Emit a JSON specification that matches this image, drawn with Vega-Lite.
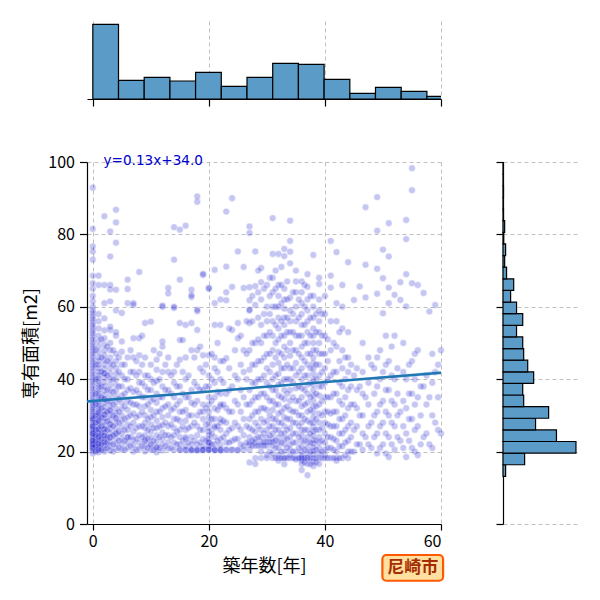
{
  "$schema": "https://vega.github.io/schema/vega-lite/v6.json",
  "autosize": {"type": "pad"},
  "padding": {"left": 22, "top": 21, "right": 5, "bottom": 5},
  "config": {
    "font": "Noto Sans CJK JP",
    "view": {"stroke": null},
    "axis": {
      "labelFont": "Noto Sans CJK JP", "titleFont": "Noto Sans CJK JP",
      "labelFontSize": 16, "titleFontSize": 18, "titleFontWeight": "normal",
      "labelColor": "black", "titleColor": "black",
      "domainColor": "black", "domainWidth": 1.2, "tickColor": "black", "tickWidth": 1.2,
      "gridColor": "#b0b0b0", "gridDash": [4, 3], "gridWidth": 0.8
    }
  },
  "spacing": 63,
  "bounds": "flush",
  "vconcat": [
    {
      "width": 354, "height": 78,
      "data": {"values": [
        {"start": 0, "end": 4.43, "count": 448},
        {"start": 4.43, "end": 8.86, "count": 112},
        {"start": 8.86, "end": 13.29, "count": 130},
        {"start": 13.29, "end": 17.71, "count": 108},
        {"start": 17.71, "end": 22.14, "count": 160},
        {"start": 22.14, "end": 26.57, "count": 76},
        {"start": 26.57, "end": 31, "count": 130},
        {"start": 31, "end": 35.43, "count": 214},
        {"start": 35.43, "end": 39.86, "count": 208},
        {"start": 39.86, "end": 44.29, "count": 118},
        {"start": 44.29, "end": 48.71, "count": 34},
        {"start": 48.71, "end": 53.14, "count": 70},
        {"start": 53.14, "end": 57.57, "count": 46},
        {"start": 57.57, "end": 62, "count": 16}
      ]},
      "mark": {"type": "rect", "fill": "#5a9bc8", "stroke": "black", "strokeWidth": 1.2, "clip": true},
      "encoding": {
        "x": {"field": "start", "type": "quantitative", "scale": {"domain": [-1, 60], "nice": false, "zero": false},
              "axis": {"values": [0, 20, 40, 60], "labels": false, "tickSize": 7, "title": null, "grid": true}},
        "x2": {"field": "end"},
        "y": {"field": "count", "type": "quantitative", "scale": {"domain": [0, 468]}, "axis": null},
        "y2": {"datum": 0}
      }
    },
    {
      "spacing": 62,
      "bounds": "flush",
      "hconcat": [
        {
          "width": 354, "height": 362,
          "encoding": {
            "x": {"type": "quantitative", "title": "築年数[年]", "scale": {"domain": [-1, 60], "nice": false, "zero": false},
                  "axis": {"values": [0, 20, 40, 60], "tickSize": 6, "labelPadding": 3, "titlePadding": 8, "grid": true}},
            "y": {"type": "quantitative", "title": "専有面積[m2]", "scale": {"domain": [0, 100], "nice": false},
                  "axis": {"values": [0, 20, 40, 60, 80, 100], "tickSize": 7.5, "labelPadding": 5, "titlePadding": 7, "grid": true}}
          },
          "layer": [
            {
              "data": {"values": [
{"age":0,"area":19.5},{"age":0,"area":20.2},{"age":0,"area":20.8},{"age":0,"area":21.3},{"age":0,"area":21.8},{"age":0,"area":22.3},{"age":0,"area":22.8},{"age":0,"area":23.3},{"age":0,"area":23.8},{"age":0,"area":24.3},{"age":0,"area":24.8},{"age":0,"area":25.3},{"age":0,"area":25.8},{"age":0,"area":26.3},{"age":0,"area":26.8},{"age":0,"area":27.3},{"age":0,"area":28},{"age":0,"area":28.6},{"age":0,"area":29.2},{"age":0,"area":29.8},{"age":0,"area":30.4},{"age":0,"area":31},{"age":0,"area":31.6},{"age":0,"area":32.2},{"age":0,"area":32.8},{"age":0,"area":33.5},{"age":0,"area":34.2},{"age":0,"area":35},{"age":0,"area":35.8},{"age":0,"area":36.6},{"age":0,"area":37.4},{"age":0,"area":38.2},{"age":0,"area":39},{"age":0,"area":39.8},{"age":0,"area":40.6},{"age":0,"area":41.4},{"age":0,"area":42.2},{"age":0,"area":43},{"age":0,"area":43.8},{"age":0,"area":44.6},{"age":0,"area":45.4},{"age":0,"area":46.2},{"age":0,"area":47},{"age":0,"area":47.8},{"age":0,"area":48.6},{"age":0,"area":49.4},{"age":0,"area":50.2},{"age":0,"area":51},{"age":0,"area":51.8},{"age":0,"area":52.6},{"age":0,"area":53.4},{"age":0,"area":54.2},{"age":0,"area":55},{"age":0,"area":55.8},{"age":0,"area":56.6},{"age":0,"area":57.4},{"age":0,"area":58.2},{"age":0,"area":59},{"age":0,"area":60},{"age":0,"area":61.5},{"age":0,"area":63},{"age":0,"area":65},{"age":0,"area":66.5},{"age":0,"area":68.6},{"age":0,"area":73},{"age":0,"area":75.3},{"age":0,"area":76.7},{"age":0,"area":81.5},{"age":0,"area":92.9},{"age":0,"area":21},{"age":0,"area":22},{"age":0,"area":23},{"age":0,"area":25},{"age":0,"area":27},{"age":0,"area":29},
{"age":1,"area":19.8},{"age":1,"area":20.5},{"age":1,"area":21},{"age":1,"area":21.6},{"age":1,"area":22.2},{"age":1,"area":22.9},{"age":1,"area":23.5},{"age":1,"area":24.1},{"age":1,"area":24.8},{"age":1,"area":25.5},{"age":1,"area":26.2},{"age":1,"area":27},{"age":1,"area":27.8},{"age":1,"area":28.5},{"age":1,"area":29.3},{"age":1,"area":30},{"age":1,"area":30.8},{"age":1,"area":31.5},{"age":1,"area":32.3},{"age":1,"area":33},{"age":1,"area":33.8},{"age":1,"area":34.6},{"age":1,"area":35.4},{"age":1,"area":36.2},{"age":1,"area":37},{"age":1,"area":37.8},{"age":1,"area":38.6},{"age":1,"area":39.4},{"age":1,"area":40.2},{"age":1,"area":41},{"age":1,"area":42},{"age":1,"area":43},{"age":1,"area":44},{"age":1,"area":45},{"age":1,"area":46},{"age":1,"area":47.5},{"age":1,"area":49},{"age":1,"area":50.5},{"age":1,"area":52},{"age":1,"area":54},{"age":1,"area":56},{"age":1,"area":58},{"age":1,"area":66},{"age":1,"area":68.6},{"age":1,"area":20.5},{"age":1,"area":22.2},{"age":1,"area":24.1},{"age":1,"area":26.2},{"age":1,"area":28.5},{"age":1,"area":30.8},
{"age":2,"area":20},{"age":2,"area":20.8},{"age":2,"area":21.7},{"age":2,"area":22.6},{"age":2,"area":23.5},{"age":2,"area":24.4},{"age":2,"area":25.3},{"age":2,"area":26.2},{"age":2,"area":27.2},{"age":2,"area":28.2},{"age":2,"area":29.2},{"age":2,"area":30.2},{"age":2,"area":31.2},{"age":2,"area":32.3},{"age":2,"area":33.4},{"age":2,"area":34.5},{"age":2,"area":35.6},{"age":2,"area":36.8},{"age":2,"area":38},{"age":2,"area":39.2},{"age":2,"area":40.4},{"age":2,"area":41.6},{"age":2,"area":42.8},{"age":2,"area":44},{"age":2,"area":45.3},{"age":2,"area":46.6},{"age":2,"area":48},{"age":2,"area":49.5},{"age":2,"area":51.3},{"age":2,"area":53.5},{"age":2,"area":56.8},{"age":2,"area":61},{"age":2,"area":66},{"age":2,"area":85},{"age":2,"area":22.6},{"age":2,"area":24.4},{"age":2,"area":26.2},{"age":2,"area":30.2},{"age":2,"area":34.5},{"age":2,"area":41.6},
{"age":3,"area":20.3},{"age":3,"area":21.5},{"age":3,"area":22.7},{"age":3,"area":23.9},{"age":3,"area":25.1},{"age":3,"area":26.3},{"age":3,"area":27.5},{"age":3,"area":28.8},{"age":3,"area":30.1},{"age":3,"area":31.4},{"age":3,"area":32.7},{"age":3,"area":34},{"age":3,"area":35.5},{"age":3,"area":37},{"age":3,"area":38.5},{"age":3,"area":40},{"age":3,"area":41.5},{"age":3,"area":43},{"age":3,"area":44.5},{"age":3,"area":46},{"age":3,"area":48},{"age":3,"area":50},{"age":3,"area":53.6},{"age":3,"area":54.5},{"age":3,"area":61.5},{"age":3,"area":64.8},{"age":3,"area":66},{"age":3,"area":73.9},{"age":3,"area":80.8},{"age":3,"area":23.9},{"age":3,"area":27.5},{"age":3,"area":31.4},
{"age":4,"area":20.8},{"age":4,"area":22.2},{"age":4,"area":23.6},{"age":4,"area":25},{"age":4,"area":26.4},{"age":4,"area":27.8},{"age":4,"area":29.2},{"age":4,"area":30.6},{"age":4,"area":32},{"age":4,"area":33.6},{"age":4,"area":35.2},{"age":4,"area":36.8},{"age":4,"area":38.4},{"age":4,"area":40},{"age":4,"area":41.6},{"age":4,"area":43.2},{"age":4,"area":45},{"age":4,"area":47},{"age":4,"area":52},{"age":4,"area":53},{"age":4,"area":59},{"age":4,"area":64.7},{"age":4,"area":77.7},{"age":4,"area":83.3},{"age":4,"area":86.8},{"age":4,"area":25},{"age":4,"area":29.2},
{"age":5,"area":20.5},{"age":5,"area":22},{"age":5,"area":23.5},{"age":5,"area":25},{"age":5,"area":26.8},{"age":5,"area":28.5},{"age":5,"area":30},{"age":5,"area":31.8},{"age":5,"area":33.5},{"age":5,"area":35.5},{"age":5,"area":38},{"age":5,"area":41},{"age":5,"area":44},{"age":5,"area":47.6},{"age":5,"area":50.4},{"age":5,"area":58.3},
{"age":6,"area":21},{"age":6,"area":22.5},{"age":6,"area":24},{"age":6,"area":26},{"age":6,"area":27.5},{"age":6,"area":29.5},{"age":6,"area":31.5},{"age":6,"area":34},{"age":6,"area":37},{"age":6,"area":40},{"age":6,"area":46},{"age":6,"area":61},{"age":6,"area":64.9},{"age":6,"area":67.5},{"age":6,"area":24},
{"age":7,"area":20},{"age":7,"area":21.8},{"age":7,"area":23.2},{"age":7,"area":25.5},{"age":7,"area":28},{"age":7,"area":30.5},{"age":7,"area":33},{"age":7,"area":36.5},{"age":7,"area":42},{"age":7,"area":46},{"age":7,"area":51.3},{"age":7,"area":60.5},{"age":7,"area":61},
{"age":8,"area":20.8},{"age":8,"area":22.5},{"age":8,"area":24.5},{"age":8,"area":27},{"age":8,"area":30},{"age":8,"area":32.5},{"age":8,"area":36},{"age":8,"area":39},{"age":8,"area":42},{"age":8,"area":46.6},{"age":8,"area":51.3},{"age":8,"area":69.6},
{"age":9,"area":20},{"age":9,"area":21.5},{"age":9,"area":23},{"age":9,"area":24.5},{"age":9,"area":26.5},{"age":9,"area":28},{"age":9,"area":30},{"age":9,"area":32.5},{"age":9,"area":35},{"age":9,"area":38},{"age":9,"area":41},{"age":9,"area":46},{"age":9,"area":55.5},{"age":9,"area":23},
{"age":10,"area":20.5},{"age":10,"area":22},{"age":10,"area":23.8},{"age":10,"area":25.5},{"age":10,"area":27.5},{"age":10,"area":29.5},{"age":10,"area":31.5},{"age":10,"area":34},{"age":10,"area":37},{"age":10,"area":40},{"age":10,"area":44},{"age":10,"area":55.9},{"age":10,"area":22},
{"age":11,"area":19.8},{"age":11,"area":21.2},{"age":11,"area":22.8},{"age":11,"area":24.5},{"age":11,"area":26.5},{"age":11,"area":28.5},{"age":11,"area":31},{"age":11,"area":33.5},{"age":11,"area":36},{"age":11,"area":39.5},{"age":11,"area":42.6},{"age":11,"area":45.4},{"age":11,"area":21.2},
{"age":12,"area":20.3},{"age":12,"area":22},{"age":12,"area":23.5},{"age":12,"area":25.3},{"age":12,"area":27.3},{"age":12,"area":29.5},{"age":12,"area":32},{"age":12,"area":35},{"age":12,"area":38},{"age":12,"area":42},{"age":12,"area":49},{"age":12,"area":50.4},{"age":12,"area":60},{"age":12,"area":60.3},
{"age":13,"area":20.8},{"age":13,"area":22.6},{"age":13,"area":24.5},{"age":13,"area":27},{"age":13,"area":30},{"age":13,"area":33},{"age":13,"area":37},{"age":13,"area":42},{"age":13,"area":46},{"age":13,"area":63.7},{"age":13,"area":65.2},
{"age":14,"area":20.5},{"age":14,"area":22.5},{"age":14,"area":24.5},{"age":14,"area":26.5},{"age":14,"area":29},{"age":14,"area":32},{"age":14,"area":35},{"age":14,"area":39},{"age":14,"area":42},{"age":14,"area":59.7},{"age":14,"area":60},{"age":14,"area":73},{"age":14,"area":82},
{"age":15,"area":20.5},{"age":15,"area":20.5},{"age":15,"area":22},{"age":15,"area":24},{"age":15,"area":26},{"age":15,"area":28.5},{"age":15,"area":31},{"age":15,"area":34},{"age":15,"area":38},{"age":15,"area":45.4},{"age":15,"area":55.5},{"age":15,"area":67.5},{"age":15,"area":81.3},{"age":15,"area":50.8},
{"age":16,"area":20.4},{"age":16,"area":20.5},{"age":16,"area":21.5},{"age":16,"area":23.5},{"age":16,"area":26},{"age":16,"area":28.5},{"age":16,"area":31.5},{"age":16,"area":35},{"age":16,"area":40},{"age":16,"area":46},{"age":16,"area":55},{"age":16,"area":82.4},{"age":16,"area":24},
{"age":17,"area":20.5},{"age":17,"area":20.5},{"age":17,"area":20.4},{"age":17,"area":22},{"age":17,"area":24},{"age":17,"area":27},{"age":17,"area":30},{"age":17,"area":33.5},{"age":17,"area":37},{"age":17,"area":48},{"age":17,"area":55.5},{"age":17,"area":62.7},{"age":17,"area":63.2},{"age":17,"area":64.7},
{"age":18,"area":20.5},{"age":18,"area":20.5},{"age":18,"area":20.3},{"age":18,"area":22},{"age":18,"area":24.5},{"age":18,"area":27},{"age":18,"area":30},{"age":18,"area":34},{"age":18,"area":38},{"age":18,"area":53.6},{"age":18,"area":58.8},{"age":18,"area":59.2},{"age":18,"area":48},{"age":18,"area":89},{"age":18,"area":90.5},
{"age":19,"area":20.5},{"age":19,"area":20.5},{"age":19,"area":20.4},{"age":19,"area":21.5},{"age":19,"area":23.5},{"age":19,"area":26},{"age":19,"area":29},{"age":19,"area":33},{"age":19,"area":37},{"age":19,"area":42},{"age":19,"area":46.6},{"age":19,"area":68.8},{"age":19,"area":69.1},{"age":19,"area":31},
{"age":20,"area":20.5},{"age":20,"area":20.5},{"age":20,"area":20.6},{"age":20,"area":21.5},{"age":20,"area":22.5},{"age":20,"area":23.5},{"age":20,"area":24.5},{"age":20,"area":25.5},{"age":20,"area":26.5},{"age":20,"area":28},{"age":20,"area":29.5},{"age":20,"area":31},{"age":20,"area":33},{"age":20,"area":35},{"age":20,"area":38},{"age":20,"area":41},{"age":20,"area":46.6},{"age":20,"area":65},{"age":20,"area":65.2},{"age":20,"area":22.5},
{"age":21,"area":20.5},{"age":21,"area":20.5},{"age":21,"area":20.4},{"age":21,"area":22},{"age":21,"area":24},{"age":21,"area":26.5},{"age":21,"area":29},{"age":21,"area":32},{"age":21,"area":35},{"age":21,"area":39},{"age":21,"area":43},{"age":21,"area":46},{"age":21,"area":55},{"age":21,"area":61},{"age":21,"area":70.2},{"age":21,"area":27},
{"age":22,"area":20.5},{"age":22,"area":20.5},{"age":22,"area":20.3},{"age":22,"area":21.8},{"age":22,"area":23.5},{"age":22,"area":26},{"age":22,"area":29},{"age":22,"area":32.5},{"age":22,"area":36},{"age":22,"area":40},{"age":22,"area":45},{"age":22,"area":55},{"age":22,"area":62},{"age":22,"area":28},{"age":22,"area":33},
{"age":23,"area":20.5},{"age":23,"area":20.5},{"age":23,"area":22.5},{"age":23,"area":25},{"age":23,"area":28},{"age":23,"area":32},{"age":23,"area":36},{"age":23,"area":45.8},{"age":23,"area":61.8},{"age":23,"area":64},{"age":23,"area":71.1},{"age":23,"area":86.3},
{"age":24,"area":20.5},{"age":24,"area":20.5},{"age":24,"area":23},{"age":24,"area":26.5},{"age":24,"area":31},{"age":24,"area":38},{"age":24,"area":53.6},{"age":24,"area":65.5},{"age":24,"area":90},
{"age":25,"area":20.5},{"age":25,"area":20.4},{"age":25,"area":23.5},{"age":25,"area":27},{"age":25,"area":33},{"age":25,"area":40},{"age":25,"area":51.3},{"age":25,"area":55.5},{"age":25,"area":75.3},
{"age":26,"area":20.5},{"age":26,"area":21.5},{"age":26,"area":24.5},{"age":26,"area":29},{"age":26,"area":35},{"age":26,"area":42},{"age":26,"area":48},{"age":26,"area":65.2},{"age":26,"area":71},
{"age":27,"area":17},{"age":27,"area":20.5},{"age":27,"area":21.8},{"age":27,"area":22.5},{"age":27,"area":24},{"age":27,"area":26.5},{"age":27,"area":29},{"age":27,"area":33},{"age":27,"area":37},{"age":27,"area":42.6},{"age":27,"area":48},{"age":27,"area":55.5},{"age":27,"area":59},{"age":27,"area":59.2},{"age":27,"area":61.8},{"age":27,"area":65.4},{"age":27,"area":80.4},{"age":27,"area":82.2},
{"age":28,"area":16.6},{"age":28,"area":18.2},{"age":28,"area":21.6},{"age":28,"area":22.5},{"age":28,"area":23.5},{"age":28,"area":25.5},{"age":28,"area":28},{"age":28,"area":31},{"age":28,"area":35},{"age":28,"area":39},{"age":28,"area":44},{"age":28,"area":50},{"age":28,"area":60.5},{"age":28,"area":65.7},{"age":28,"area":75.3},
{"age":29,"area":18.2},{"age":29,"area":20},{"age":29,"area":21.6},{"age":29,"area":22.6},{"age":29,"area":24},{"age":29,"area":26},{"age":29,"area":29},{"age":29,"area":32},{"age":29,"area":36},{"age":29,"area":40},{"age":29,"area":45},{"age":29,"area":50},{"age":29,"area":55},{"age":29,"area":62},{"age":29,"area":66.8},{"age":29,"area":70.7},
{"age":30,"area":18.2},{"age":30,"area":19},{"age":30,"area":21.6},{"age":30,"area":22.6},{"age":30,"area":23.8},{"age":30,"area":26},{"age":30,"area":28.5},{"age":30,"area":31.5},{"age":30,"area":35},{"age":30,"area":39},{"age":30,"area":43},{"age":30,"area":47},{"age":30,"area":52},{"age":30,"area":56},{"age":30,"area":60},{"age":30,"area":66},
{"age":31,"area":18.2},{"age":31,"area":19.5},{"age":31,"area":21.6},{"age":31,"area":22.6},{"age":31,"area":23.5},{"age":31,"area":25},{"age":31,"area":27},{"age":31,"area":29},{"age":31,"area":31.5},{"age":31,"area":34},{"age":31,"area":37},{"age":31,"area":40},{"age":31,"area":44},{"age":31,"area":48},{"age":31,"area":52},{"age":31,"area":56},{"age":31,"area":60},{"age":31,"area":64},{"age":31,"area":68},{"age":31,"area":74.6},{"age":31,"area":84.5},
{"age":32,"area":17.5},{"age":32,"area":18.2},{"age":32,"area":19},{"age":32,"area":21},{"age":32,"area":22.5},{"age":32,"area":24},{"age":32,"area":26},{"age":32,"area":28},{"age":32,"area":30.5},{"age":32,"area":33},{"age":32,"area":35.5},{"age":32,"area":38.5},{"age":32,"area":41.5},{"age":32,"area":44.5},{"age":32,"area":47.5},{"age":32,"area":51},{"age":32,"area":54},{"age":32,"area":57},{"age":32,"area":60},{"age":32,"area":63},{"age":32,"area":66},{"age":32,"area":74.6},
{"age":33,"area":16.5},{"age":33,"area":18.2},{"age":33,"area":18.2},{"age":33,"area":20},{"age":33,"area":22},{"age":33,"area":23.5},{"age":33,"area":25},{"age":33,"area":27},{"age":33,"area":29.5},{"age":33,"area":32},{"age":33,"area":34.5},{"age":33,"area":37},{"age":33,"area":40},{"age":33,"area":43},{"age":33,"area":46},{"age":33,"area":49},{"age":33,"area":52},{"age":33,"area":55},{"age":33,"area":57},{"age":33,"area":59.5},{"age":33,"area":62},{"age":33,"area":65},{"age":33,"area":74},{"age":33,"area":76},
{"age":34,"area":18.2},{"age":34,"area":19},{"age":34,"area":20.5},{"age":34,"area":22},{"age":34,"area":24},{"age":34,"area":26.5},{"age":34,"area":29},{"age":34,"area":31.5},{"age":34,"area":34},{"age":34,"area":37},{"age":34,"area":40},{"age":34,"area":43},{"age":34,"area":46.5},{"age":34,"area":50},{"age":34,"area":53},{"age":34,"area":56},{"age":34,"area":59},{"age":34,"area":62.5},{"age":34,"area":72},{"age":34,"area":75.2},{"age":34,"area":78.2},{"age":34,"area":83.8},
{"age":35,"area":17.8},{"age":35,"area":18.2},{"age":35,"area":20},{"age":35,"area":22.5},{"age":35,"area":25},{"age":35,"area":28},{"age":35,"area":31},{"age":35,"area":34},{"age":35,"area":37.5},{"age":35,"area":41},{"age":35,"area":44.5},{"age":35,"area":48},{"age":35,"area":52},{"age":35,"area":56},{"age":35,"area":60},{"age":35,"area":64},{"age":35,"area":67},{"age":35,"area":70},
{"age":36,"area":14.9},{"age":36,"area":16.6},{"age":36,"area":17.5},{"age":36,"area":18.2},{"age":36,"area":18.2},{"age":36,"area":19},{"age":36,"area":20},{"age":36,"area":21.5},{"age":36,"area":23},{"age":36,"area":24.5},{"age":36,"area":26},{"age":36,"area":28},{"age":36,"area":30},{"age":36,"area":32.5},{"age":36,"area":35},{"age":36,"area":37.5},{"age":36,"area":40},{"age":36,"area":43},{"age":36,"area":46},{"age":36,"area":49},{"age":36,"area":52},{"age":36,"area":55},{"age":36,"area":58},{"age":36,"area":61},{"age":36,"area":64},{"age":36,"area":67},
{"age":37,"area":13.5},{"age":37,"area":16.6},{"age":37,"area":18.2},{"age":37,"area":18.2},{"age":37,"area":19.5},{"age":37,"area":21},{"age":37,"area":22.5},{"age":37,"area":24},{"age":37,"area":26},{"age":37,"area":28.5},{"age":37,"area":31},{"age":37,"area":33.5},{"age":37,"area":36},{"age":37,"area":38.5},{"age":37,"area":41},{"age":37,"area":44},{"age":37,"area":47},{"age":37,"area":50},{"age":37,"area":53},{"age":37,"area":56},{"age":37,"area":59},{"age":37,"area":62},{"age":37,"area":65.5},{"age":37,"area":69},
{"age":38,"area":16},{"age":38,"area":17.2},{"age":38,"area":18.2},{"age":38,"area":19.2},{"age":38,"area":20.2},{"age":38,"area":21.2},{"age":38,"area":22.2},{"age":38,"area":23.2},{"age":38,"area":24.4},{"age":38,"area":25.6},{"age":38,"area":26.8},{"age":38,"area":28},{"age":38,"area":29.5},{"age":38,"area":31},{"age":38,"area":32.5},{"age":38,"area":34},{"age":38,"area":35.5},{"age":38,"area":37},{"age":38,"area":38.5},{"age":38,"area":40},{"age":38,"area":41.5},{"age":38,"area":43},{"age":38,"area":44.5},{"age":38,"area":46},{"age":38,"area":48},{"age":38,"area":50},{"age":38,"area":52},{"age":38,"area":54},{"age":38,"area":57},{"age":38,"area":60},{"age":38,"area":63},{"age":38,"area":74.3},
{"age":39,"area":16.6},{"age":39,"area":18.2},{"age":39,"area":19.5},{"age":39,"area":21},{"age":39,"area":22.5},{"age":39,"area":24},{"age":39,"area":26},{"age":39,"area":28},{"age":39,"area":30.5},{"age":39,"area":33},{"age":39,"area":35.5},{"age":39,"area":38},{"age":39,"area":41},{"age":39,"area":44},{"age":39,"area":47},{"age":39,"area":50},{"age":39,"area":53},{"age":39,"area":56},{"age":39,"area":59},{"age":39,"area":62},{"age":39,"area":66.3},{"age":39,"area":68},
{"age":40,"area":18.2},{"age":40,"area":19},{"age":40,"area":20.5},{"age":40,"area":22.5},{"age":40,"area":25},{"age":40,"area":28},{"age":40,"area":31},{"age":40,"area":35},{"age":40,"area":39},{"age":40,"area":43},{"age":40,"area":47},{"age":40,"area":52},{"age":40,"area":58},{"age":40,"area":63},
{"age":41,"area":18.2},{"age":41,"area":21},{"age":41,"area":24},{"age":41,"area":27},{"age":41,"area":30.5},{"age":41,"area":35},{"age":41,"area":41},{"age":41,"area":48},{"age":41,"area":56},{"age":41,"area":65.3},{"age":41,"area":68.6},{"age":41,"area":78.2},
{"age":42,"area":17.5},{"age":42,"area":18.2},{"age":42,"area":20},{"age":42,"area":23},{"age":42,"area":27},{"age":42,"area":31},{"age":42,"area":36},{"age":42,"area":42},{"age":42,"area":49},{"age":42,"area":56},{"age":42,"area":61},{"age":42,"area":75.1},
{"age":43,"area":18.2},{"age":43,"area":21.5},{"age":43,"area":25},{"age":43,"area":29},{"age":43,"area":33},{"age":43,"area":38},{"age":43,"area":43},{"age":43,"area":48},{"age":43,"area":54},{"age":43,"area":60},{"age":43,"area":66},
{"age":44,"area":18.2},{"age":44,"area":20},{"age":44,"area":23},{"age":44,"area":27},{"age":44,"area":32},{"age":44,"area":37},{"age":44,"area":42},{"age":44,"area":46},{"age":44,"area":53},{"age":44,"area":72.3},
{"age":45,"area":20},{"age":45,"area":26},{"age":45,"area":33},{"age":45,"area":41},{"age":45,"area":61.9},
{"age":46,"area":22},{"age":46,"area":30},{"age":46,"area":38},{"age":46,"area":65.6},
{"age":47,"area":24},{"age":47,"area":35},{"age":47,"area":62.6},{"age":47,"area":71.6},{"age":47,"area":87.5},
{"age":48,"area":21},{"age":48,"area":28},{"age":48,"area":44},
{"age":49,"area":19.5},{"age":49,"area":25},{"age":49,"area":31},{"age":49,"area":38},{"age":49,"area":46},{"age":49,"area":63.6},{"age":49,"area":70.5},{"age":49,"area":81},{"age":49,"area":90.3},
{"age":50,"area":22},{"age":50,"area":28},{"age":50,"area":34},{"age":50,"area":42},{"age":50,"area":58.2},{"age":50,"area":67.9},{"age":50,"area":75.8},
{"age":51,"area":18.5},{"age":51,"area":24},{"age":51,"area":30},{"age":51,"area":37},{"age":51,"area":45},{"age":51,"area":61},{"age":51,"area":65.3},{"age":51,"area":73.9},{"age":51,"area":83.1},
{"age":52,"area":20.5},{"age":52,"area":27},{"age":52,"area":33},{"age":52,"area":40},{"age":52,"area":52},{"age":52,"area":63.3},
{"age":53,"area":23},{"age":53,"area":31},{"age":53,"area":61.9},{"age":53,"area":66.8},
{"age":54,"area":18.5},{"age":54,"area":25},{"age":54,"area":32},{"age":54,"area":40},{"age":54,"area":60.1},{"age":54,"area":69},{"age":54,"area":78.7},{"age":54,"area":84},
{"age":55,"area":21},{"age":55,"area":29},{"age":55,"area":36},{"age":55,"area":45},{"age":55,"area":66.5},{"age":55,"area":92.2},{"age":55,"area":98.3},
{"age":56,"area":19},{"age":56,"area":27},{"age":56,"area":35},{"age":56,"area":48},{"age":56,"area":66},
{"age":57,"area":24},{"age":57,"area":38},{"age":57,"area":63.8},
{"age":58,"area":22},{"age":58,"area":35},{"age":58,"area":58.7},
{"age":59,"area":28},{"age":59,"area":42},{"age":59,"area":60.5},
{"age":60,"area":25},{"age":60,"area":48},
{"age":0.5,"area":20},{"age":0.5,"area":21.5},{"age":0.5,"area":23},{"age":0.5,"area":24.5},{"age":0.5,"area":26},{"age":0.5,"area":28},{"age":0.5,"area":30},{"age":0.5,"area":33},{"age":0.5,"area":36},{"age":0.5,"area":40},{"age":0.5,"area":44},{"age":0.5,"area":48},
{"age":1.5,"area":20.5},{"age":1.5,"area":22},{"age":1.5,"area":23.5},{"age":1.5,"area":25},{"age":1.5,"area":27},{"age":1.5,"area":29.5},{"age":1.5,"area":32},{"age":1.5,"area":35},{"age":1.5,"area":38},{"age":1.5,"area":42},{"age":1.5,"area":46},{"age":1.5,"area":51},
{"age":2.5,"area":21},{"age":2.5,"area":22.5},{"age":2.5,"area":24},{"age":2.5,"area":26},{"age":2.5,"area":28.5},{"age":2.5,"area":31},{"age":2.5,"area":34},{"age":2.5,"area":37},{"age":2.5,"area":41},{"age":2.5,"area":45},{"age":2.5,"area":49},
{"age":3.5,"area":20},{"age":3.5,"area":22},{"age":3.5,"area":24.5},{"age":3.5,"area":27},{"age":3.5,"area":30},{"age":3.5,"area":33},{"age":3.5,"area":36.5},{"age":3.5,"area":40},{"age":3.5,"area":44},{"age":3.5,"area":48},
{"age":4.5,"area":21},{"age":4.5,"area":23},{"age":4.5,"area":25.5},{"age":4.5,"area":28},{"age":4.5,"area":31},{"age":4.5,"area":34.5},{"age":4.5,"area":38},{"age":4.5,"area":42},{"age":4.5,"area":46},
{"age":5.5,"area":20.5},{"age":5.5,"area":23},{"age":5.5,"area":26},{"age":5.5,"area":29},{"age":5.5,"area":32.5},{"age":5.5,"area":36},{"age":5.5,"area":40},{"age":5.5,"area":44},
{"age":6.5,"area":21.5},{"age":6.5,"area":24},{"age":6.5,"area":27},{"age":6.5,"area":30},{"age":6.5,"area":33.5},{"age":6.5,"area":37.5},{"age":6.5,"area":42},{"age":6.5,"area":48},
{"age":7.5,"area":20.5},{"age":7.5,"area":23.5},{"age":7.5,"area":26.5},{"age":7.5,"area":29.5},{"age":7.5,"area":33},{"age":7.5,"area":37},{"age":7.5,"area":41},{"age":7.5,"area":45},
{"age":8.5,"area":21.5},{"age":8.5,"area":24},{"age":8.5,"area":27},{"age":8.5,"area":31},{"age":8.5,"area":35},{"age":8.5,"area":39},{"age":8.5,"area":44},{"age":8.5,"area":52},
{"age":9.5,"area":21},{"age":9.5,"area":23.5},{"age":9.5,"area":26},{"age":9.5,"area":29},{"age":9.5,"area":33},{"age":9.5,"area":37},{"age":9.5,"area":41},
{"age":10.5,"area":20.5},{"age":10.5,"area":23},{"age":10.5,"area":26.5},{"age":10.5,"area":30},{"age":10.5,"area":34.5},{"age":10.5,"area":39},{"age":10.5,"area":48},
{"age":11.5,"area":21},{"age":11.5,"area":24},{"age":11.5,"area":27},{"age":11.5,"area":31},{"age":11.5,"area":35},{"age":11.5,"area":40},{"age":11.5,"area":47},
{"age":12.5,"area":21.5},{"age":12.5,"area":24.5},{"age":12.5,"area":28},{"age":12.5,"area":32.5},{"age":12.5,"area":37},{"age":12.5,"area":44},
{"age":13.5,"area":21},{"age":13.5,"area":24},{"age":13.5,"area":27.5},{"age":13.5,"area":31.5},{"age":13.5,"area":36},{"age":13.5,"area":41},
{"age":14.5,"area":22},{"age":14.5,"area":25.5},{"age":14.5,"area":29},{"age":14.5,"area":33},{"age":14.5,"area":38},{"age":14.5,"area":44},
{"age":15.5,"area":23},{"age":15.5,"area":27},{"age":15.5,"area":31},{"age":15.5,"area":36},{"age":15.5,"area":42},{"age":15.5,"area":50.8},
{"age":16.5,"area":22.5},{"age":16.5,"area":26.5},{"age":16.5,"area":30},{"age":16.5,"area":35},{"age":16.5,"area":41},
{"age":17.5,"area":23},{"age":17.5,"area":28},{"age":17.5,"area":33},{"age":17.5,"area":39},{"age":17.5,"area":46},
{"age":18.5,"area":22.5},{"age":18.5,"area":26},{"age":18.5,"area":31},{"age":18.5,"area":37},{"age":18.5,"area":43},{"age":18.5,"area":49},
{"age":19.5,"area":23},{"age":19.5,"area":27.5},{"age":19.5,"area":32},{"age":19.5,"area":38},{"age":19.5,"area":44},
{"age":20.5,"area":22},{"age":20.5,"area":25},{"age":20.5,"area":29},{"age":20.5,"area":34},{"age":20.5,"area":40},{"age":20.5,"area":47},
{"age":21.5,"area":23},{"age":21.5,"area":27},{"age":21.5,"area":31.5},{"age":21.5,"area":36.5},{"age":21.5,"area":42},{"age":21.5,"area":50},
{"age":22.5,"area":24},{"age":22.5,"area":28.5},{"age":22.5,"area":33},{"age":22.5,"area":39},{"age":22.5,"area":45},
{"age":23.5,"area":22.5},{"age":23.5,"area":26},{"age":23.5,"area":31},{"age":23.5,"area":37},{"age":23.5,"area":43},{"age":23.5,"area":54},
{"age":24.5,"area":23.5},{"age":24.5,"area":28},{"age":24.5,"area":34},{"age":24.5,"area":41},{"age":24.5,"area":48},
{"age":25.5,"area":22},{"age":25.5,"area":26},{"age":25.5,"area":31},{"age":25.5,"area":37},{"age":25.5,"area":44},{"age":25.5,"area":52},
{"age":26.5,"area":22.5},{"age":26.5,"area":27},{"age":26.5,"area":33},{"age":26.5,"area":40},{"age":26.5,"area":47},{"age":26.5,"area":56},
{"age":27.5,"area":21.6},{"age":27.5,"area":23},{"age":27.5,"area":26},{"age":27.5,"area":30},{"age":27.5,"area":34},{"age":27.5,"area":39},{"age":27.5,"area":44},{"age":27.5,"area":50},{"age":27.5,"area":56},{"age":27.5,"area":63},
{"age":28.5,"area":21.6},{"age":28.5,"area":24},{"age":28.5,"area":27},{"age":28.5,"area":31},{"age":28.5,"area":35},{"age":28.5,"area":40},{"age":28.5,"area":45},{"age":28.5,"area":51},{"age":28.5,"area":57},{"age":28.5,"area":64},{"age":28.5,"area":70},
{"age":29.5,"area":21.6},{"age":29.5,"area":22.6},{"age":29.5,"area":25},{"age":29.5,"area":28},{"age":29.5,"area":32},{"age":29.5,"area":36},{"age":29.5,"area":41},{"age":29.5,"area":46},{"age":29.5,"area":52},{"age":29.5,"area":58},{"age":29.5,"area":65},
{"age":30.5,"area":20},{"age":30.5,"area":22.6},{"age":30.5,"area":24.5},{"age":30.5,"area":27},{"age":30.5,"area":30},{"age":30.5,"area":34},{"age":30.5,"area":38},{"age":30.5,"area":42},{"age":30.5,"area":47},{"age":30.5,"area":53},{"age":30.5,"area":58},{"age":30.5,"area":63},{"age":30.5,"area":68},
{"age":31.5,"area":18.2},{"age":31.5,"area":21},{"age":31.5,"area":23},{"age":31.5,"area":26},{"age":31.5,"area":29},{"age":31.5,"area":33},{"age":31.5,"area":37},{"age":31.5,"area":41},{"age":31.5,"area":46},{"age":31.5,"area":50},{"age":31.5,"area":55},{"age":31.5,"area":60},{"age":31.5,"area":65},{"age":31.5,"area":70},
{"age":32.5,"area":18.2},{"age":32.5,"area":20},{"age":32.5,"area":22.5},{"age":32.5,"area":25},{"age":32.5,"area":28},{"age":32.5,"area":31},{"age":32.5,"area":35},{"age":32.5,"area":39},{"age":32.5,"area":43},{"age":32.5,"area":47},{"age":32.5,"area":52},{"age":32.5,"area":56},{"age":32.5,"area":61},{"age":32.5,"area":66},{"age":32.5,"area":71},
{"age":33.5,"area":18.2},{"age":33.5,"area":21},{"age":33.5,"area":23.5},{"age":33.5,"area":26},{"age":33.5,"area":29},{"age":33.5,"area":32.5},{"age":33.5,"area":36},{"age":33.5,"area":40},{"age":33.5,"area":44},{"age":33.5,"area":48},{"age":33.5,"area":53},{"age":33.5,"area":57},{"age":33.5,"area":62},{"age":33.5,"area":67},
{"age":34.5,"area":18.2},{"age":34.5,"area":20},{"age":34.5,"area":22.5},{"age":34.5,"area":25},{"age":34.5,"area":28},{"age":34.5,"area":31},{"age":34.5,"area":35},{"age":34.5,"area":39},{"age":34.5,"area":43},{"age":34.5,"area":48},{"age":34.5,"area":53},{"age":34.5,"area":58},{"age":34.5,"area":64},
{"age":35.5,"area":18.2},{"age":35.5,"area":21},{"age":35.5,"area":24},{"age":35.5,"area":27},{"age":35.5,"area":30},{"age":35.5,"area":34},{"age":35.5,"area":38},{"age":35.5,"area":42},{"age":35.5,"area":47},{"age":35.5,"area":52},{"age":35.5,"area":57},{"age":35.5,"area":62},
{"age":36.5,"area":17},{"age":36.5,"area":18.2},{"age":36.5,"area":20.5},{"age":36.5,"area":23},{"age":36.5,"area":26},{"age":36.5,"area":29},{"age":36.5,"area":33},{"age":36.5,"area":37},{"age":36.5,"area":41},{"age":36.5,"area":45},{"age":36.5,"area":50},{"age":36.5,"area":55},{"age":36.5,"area":60},{"age":36.5,"area":66},
{"age":37.5,"area":16.6},{"age":37.5,"area":18.2},{"age":37.5,"area":20},{"age":37.5,"area":22.5},{"age":37.5,"area":25},{"age":37.5,"area":28},{"age":37.5,"area":31.5},{"age":37.5,"area":35},{"age":37.5,"area":39},{"age":37.5,"area":43},{"age":37.5,"area":47},{"age":37.5,"area":52},{"age":37.5,"area":57},{"age":37.5,"area":63},
{"age":38.5,"area":17},{"age":38.5,"area":18.2},{"age":38.5,"area":20.5},{"age":38.5,"area":23},{"age":38.5,"area":26},{"age":38.5,"area":29},{"age":38.5,"area":32.5},{"age":38.5,"area":36},{"age":38.5,"area":40},{"age":38.5,"area":44},{"age":38.5,"area":48},{"age":38.5,"area":53},{"age":38.5,"area":58},
{"age":39.5,"area":18.2},{"age":39.5,"area":20},{"age":39.5,"area":23},{"age":39.5,"area":26.5},{"age":39.5,"area":30},{"age":39.5,"area":34},{"age":39.5,"area":38},{"age":39.5,"area":42},{"age":39.5,"area":47},{"age":39.5,"area":52},{"age":39.5,"area":58},
{"age":40.5,"area":18.2},{"age":40.5,"area":21},{"age":40.5,"area":24},{"age":40.5,"area":27.5},{"age":40.5,"area":31},{"age":40.5,"area":35},{"age":40.5,"area":40},{"age":40.5,"area":45},{"age":40.5,"area":51},
{"age":41.5,"area":18.2},{"age":41.5,"area":20.5},{"age":41.5,"area":23.5},{"age":41.5,"area":27},{"age":41.5,"area":31},{"age":41.5,"area":36},{"age":41.5,"area":42},{"age":41.5,"area":50},
{"age":42.5,"area":18.2},{"age":42.5,"area":21.5},{"age":42.5,"area":25},{"age":42.5,"area":29},{"age":42.5,"area":34},{"age":42.5,"area":39},{"age":42.5,"area":45},{"age":42.5,"area":53},
{"age":43.5,"area":19},{"age":43.5,"area":22.5},{"age":43.5,"area":26},{"age":43.5,"area":30},{"age":43.5,"area":35},{"age":43.5,"area":40},{"age":43.5,"area":46},
{"age":44.5,"area":20},{"age":44.5,"area":24},{"age":44.5,"area":28},{"age":44.5,"area":33},{"age":44.5,"area":38},{"age":44.5,"area":44},
{"age":45.5,"area":22},{"age":45.5,"area":27},{"age":45.5,"area":32},{"age":45.5,"area":37},{"age":45.5,"area":43},
{"age":46.5,"area":20.5},{"age":46.5,"area":25},{"age":46.5,"area":30},{"age":46.5,"area":36},{"age":46.5,"area":42},{"age":46.5,"area":50},
{"age":47.5,"area":22},{"age":47.5,"area":27},{"age":47.5,"area":33},{"age":47.5,"area":39},{"age":47.5,"area":46},
{"age":48.5,"area":24},{"age":48.5,"area":30},{"age":48.5,"area":36},{"age":48.5,"area":43},
{"age":49.5,"area":21},{"age":49.5,"area":27},{"age":49.5,"area":33},{"age":49.5,"area":40},{"age":49.5,"area":48},
{"age":50.5,"area":19.5},{"age":50.5,"area":25},{"age":50.5,"area":31},{"age":50.5,"area":37},{"age":50.5,"area":44},{"age":50.5,"area":52},
{"age":51.5,"area":22},{"age":51.5,"area":28},{"age":51.5,"area":34},{"age":51.5,"area":41},{"age":51.5,"area":49},
{"age":52.5,"area":24},{"age":52.5,"area":30},{"age":52.5,"area":36},{"age":52.5,"area":43},
{"age":53.5,"area":21},{"age":53.5,"area":27},{"age":53.5,"area":34},{"age":53.5,"area":42},{"age":53.5,"area":50},
{"age":54.5,"area":23},{"age":54.5,"area":29},{"age":54.5,"area":36},{"age":54.5,"area":44},
{"age":55.5,"area":20},{"age":55.5,"area":26},{"age":55.5,"area":33},{"age":55.5,"area":40},{"age":55.5,"area":47},
{"age":56.5,"area":22},{"age":56.5,"area":30},{"age":56.5,"area":38},
{"age":57.5,"area":25},{"age":57.5,"area":33},{"age":57.5,"area":41},
{"age":58.5,"area":21},{"age":58.5,"area":30},{"age":58.5,"area":39},{"age":58.5,"area":47},
{"age":59.5,"area":26},{"age":59.5,"area":35},{"age":59.5,"area":44}
              ]},
              "mark": {"type": "circle", "size": 48, "color": "#0000cd", "opacity": 0.22, "stroke": "white", "strokeWidth": 0.6},
              "encoding": {
                "x": {"field": "age"},
                "y": {"field": "area"}
              }
            },
            {
              "data": {"values": [
                {"age": -1, "lo": 33.35, "hi": 34.4},
                {"age": 15, "lo": 35.65, "hi": 36.3},
                {"age": 30, "lo": 37.7, "hi": 38.25},
                {"age": 45, "lo": 39.45, "hi": 40.15},
                {"age": 60, "lo": 41.2, "hi": 42.4}
              ]},
              "mark": {"type": "area", "color": "#1f77b4", "opacity": 0.15},
              "encoding": {
                "x": {"field": "age"},
                "y": {"field": "lo"},
                "y2": {"field": "hi"}
              }
            },
            {
              "data": {"values": [
                {"age": -1, "fit": 33.87},
                {"age": 60, "fit": 41.8}
              ]},
              "mark": {"type": "line", "color": "#1f77b4", "strokeWidth": 2.5},
              "encoding": {
                "x": {"field": "age"},
                "y": {"field": "fit"}
              }
            },
            {
              "data": {"values": [{"label": "y=0.13x+34.0", "age": 1.85, "area": 100.3}]},
              "mark": {"type": "text", "align": "left", "baseline": "middle", "font": "DejaVu Sans", "fontSize": 13.6, "color": "#0000cd"},
              "encoding": {
                "x": {"field": "age"},
                "y": {"field": "area"},
                "text": {"field": "label"}
              }
            },
            {
              "data": {"values": [{"label": "尼崎市", "x0": 49.9, "x1": 60.36, "y0": -8.57, "y1": -15.68}]},
              "mark": {"type": "rect", "fill": "#ffe0a0", "stroke": "#ff5a00", "strokeWidth": 2.2, "cornerRadius": 4},
              "encoding": {
                "x": {"field": "x0"},
                "x2": {"field": "x1"},
                "y": {"field": "y0"},
                "y2": {"field": "y1"}
              }
            },
            {
              "data": {"values": [{"label": "尼崎市", "age": 55.13, "area": -12.1}]},
              "mark": {"type": "text", "align": "center", "baseline": "middle", "fontSize": 17, "fontWeight": "bold", "color": "#a32c00"},
              "encoding": {
                "x": {"field": "age"},
                "y": {"field": "area"},
                "text": {"field": "label"}
              }
            }
          ]
        },
        {
          "width": 77, "height": 362,
          "data": {"values": [
            {"start": 13.16, "end": 16.37, "count": 11},
            {"start": 16.37, "end": 19.58, "count": 91},
            {"start": 19.58, "end": 22.79, "count": 307},
            {"start": 22.79, "end": 26, "count": 225},
            {"start": 26, "end": 29.21, "count": 137},
            {"start": 29.21, "end": 32.42, "count": 192},
            {"start": 32.42, "end": 35.63, "count": 87},
            {"start": 35.63, "end": 38.84, "count": 83},
            {"start": 38.84, "end": 42.05, "count": 129},
            {"start": 42.05, "end": 45.26, "count": 104},
            {"start": 45.26, "end": 48.47, "count": 87},
            {"start": 48.47, "end": 51.68, "count": 83},
            {"start": 51.68, "end": 54.89, "count": 57},
            {"start": 54.89, "end": 58.1, "count": 83},
            {"start": 58.1, "end": 61.31, "count": 57},
            {"start": 61.31, "end": 64.52, "count": 32},
            {"start": 64.52, "end": 67.73, "count": 45},
            {"start": 67.73, "end": 70.94, "count": 15},
            {"start": 70.94, "end": 74.15, "count": 7},
            {"start": 74.15, "end": 77.36, "count": 11},
            {"start": 77.36, "end": 80.57, "count": 3},
            {"start": 80.57, "end": 83.78, "count": 7},
            {"start": 83.78, "end": 86.99, "count": 2},
            {"start": 86.99, "end": 90.2, "count": 1},
            {"start": 90.2, "end": 93.41, "count": 2},
            {"start": 93.41, "end": 96.62, "count": 1},
            {"start": 96.62, "end": 99.83, "count": 1}
          ]},
          "mark": {"type": "rect", "fill": "#5a9bc8", "stroke": "black", "strokeWidth": 1.2},
          "encoding": {
            "y": {"field": "start", "type": "quantitative", "scale": {"domain": [0, 100], "nice": false},
                  "axis": {"values": [0, 20, 40, 60, 80, 100], "labels": false, "tickSize": 7, "title": null, "grid": true}},
            "y2": {"field": "end"},
            "x": {"field": "count", "type": "quantitative", "scale": {"domain": [0, 324]}, "axis": null},
            "x2": {"datum": 0}
          }
        }
      ]
    }
  ]
}
